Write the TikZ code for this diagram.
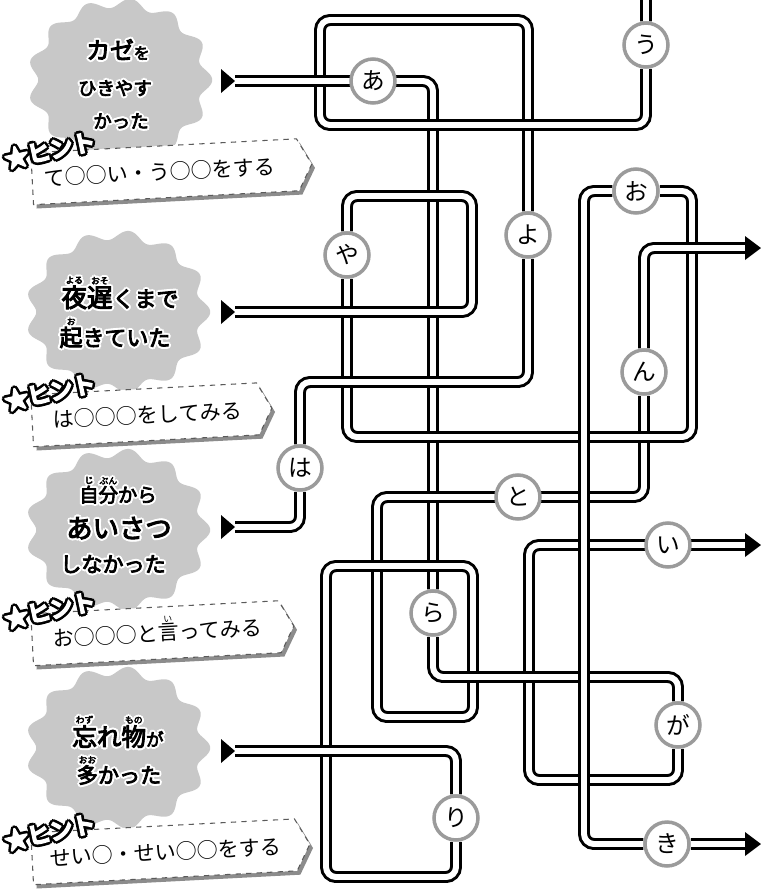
\documentclass[tikz,border=0pt]{standalone}
\usepackage{fontspec}
\usepackage{xcolor}
\usepackage{tikz}
\usetikzlibrary{positioning,backgrounds}
\newfontfamily\jpfont{Noto Sans CJK JP}
\newfontfamily\jpheavy[FakeBold=4]{Noto Sans CJK JP}
\newfontfamily\jptag[FakeBold=10]{Noto Sans CJK JP}
\definecolor{blobgray}{RGB}{200,200,200}
\definecolor{ringgray}{RGB}{155,155,155}
\definecolor{shadowgray}{RGB}{140,140,140}
\definecolor{dashgray}{RGB}{90,90,90}
\newcommand{\furi}[2]{\leavevmode\vbox{\offinterlineskip\halign{\hfil##\hfil\cr{\fontsize{5}{5}\selectfont#2}\cr\noalign{\kern1pt}#1\cr}}}
\newcommand{\cheer}[4][blob]{%
  \foreach \hx/\hy in {1/0,-1/0,0/1,0/-1,0.7/0.7,-0.7/0.7,0.7/-0.7,-0.7/-0.7}
    \node[#1 halo] at (#3) {#4};
  \node[#1 ink] (#2) at (#3) {#4};}

\begin{document}
\begin{tikzpicture}[x=0.02cm, y=-0.02cm,
  pipe/.style={draw=black, double=white, double distance=3.4pt, line width=1.7pt, rounded corners=0.2cm},
  letter/.style={circle, draw=ringgray, line width=2pt, fill=white, minimum size=0.88cm, inner sep=0pt,
                 font=\jpfont\fontsize{13.5}{13.5}\selectfont},
  pointer/.style={fill=black},
  blob/.style={fill=blobgray},
  blob halo/.style={anchor=base, inner sep=0pt, text=white, font=\jpheavy, xshift=\hx*1.2pt, yshift=\hy*1.2pt},
  blob ink/.style={anchor=base, inner sep=0pt, text=black, font=\jpheavy},
  tag halo/.style={rotate=12, inner sep=0pt, text=black, font=\jptag\fontsize{13}{13}\selectfont,
                   xshift=\hx*1.5pt, yshift=\hy*1.5pt},
  tag ink/.style={rotate=12, inner sep=0pt, text=white, font=\jptag\fontsize{13}{13}\selectfont},
  hintbox/.style={fill=white, draw=dashgray, dashed, line width=0.6pt},
  hintshadow/.style={fill=shadowgray},
  hinttext/.style={rotate=3, anchor=base, inner sep=0pt, font=\jpfont\fontsize{12}{12}\selectfont}
]
  \useasboundingbox (0,0) rectangle (761,890);

  % bubbles on the left
  \foreach \bx/\by in {120/80, 118/312, 118/530, 118/748}
    \fill[blob, shift={(\bx,\by)}] plot[domain=0:359, samples=360]
      ({87*(1+0.06*cos(13*\x))*cos(\x)}, {77*(1+0.06*cos(13*\x))*sin(\x)}) -- cycle;

  \cheer{t1a}{118,59}{\fontsize{13.5}{13.5}\selectfont カゼ\fontsize{9}{9}\selectfont を}
  \cheer{t1b}{115,95}{\fontsize{10.5}{10.5}\selectfont ひきやす}
  \cheer{t1c}{121,128}{\fontsize{10.5}{10.5}\selectfont かった}
  \cheer{t2a}{120,307}{\fontsize{14.5}{14.5}\selectfont\furi{夜}{よる}\furi{遅}{おそ}\fontsize{12.5}{12.5}\selectfont くまで}
  \cheer{t2b}{115,346}{\fontsize{13}{13}\selectfont\furi{起}{お}\fontsize{12.5}{12.5}\selectfont きていた}
  \cheer{t3a}{118,502}{\fontsize{11}{11}\selectfont\furi{自}{じ}\furi{分}{ぶん}から}
  \cheer{t3b}{119,538}{\fontsize{15}{15}\selectfont あいさつ}
  \cheer{t3c}{113,572}{\fontsize{12}{12}\selectfont しなかった}
  \cheer{t4a}{118,746}{\fontsize{14}{14}\selectfont\furi{忘}{わず}れ\furi{物}{もの}\fontsize{10}{10}\selectfont が}
  \cheer{t4b}{119,783}{\fontsize{12}{12}\selectfont\furi{多}{おお}かった}

  % hint boxes
  \foreach \cy/\rx in {172/298, 414/258, 633/280, 852/296} {
    \begin{scope}[rotate around={3:(160,\cy)}]
      \fill[hintshadow, shift={(3,4)}] (32,\cy-26) -- (\rx,\cy-26) -- (\rx+14,\cy) -- (\rx,\cy+26) -- (32,\cy+26) -- cycle;
      \filldraw[hintbox] (32,\cy-26) -- (\rx,\cy-26) -- (\rx+14,\cy) -- (\rx,\cy+26) -- (32,\cy+26) -- cycle;
    \end{scope}
  }
  \node[hinttext] (hint1) at (160,180) {て○○い・う○○をする};
  \node[hinttext] (hint2) at (148,423) {は○○○をしてみる};
  \node[hinttext] (hint3) at (158,641) {お○○○と\furi{言}{い}ってみる};
  \node[hinttext] (hint4) at (166,860) {せい○・せい○○をする};
  \cheer[tag]{tag1}{50,150}{★ヒント}
  \cheer[tag]{tag2}{50,392}{★ヒント}
  \cheer[tag]{tag3}{50,610}{★ヒント}
  \cheer[tag]{tag4}{50,832}{★ヒント}

  % letter stops
  \node[letter] (a)  at (373,81)  {あ};
  \node[letter] (ra) at (433,613) {ら};
  \node[letter] (ga) at (678,725) {が};
  \node[letter] (i)  at (668,545) {い};
  \node[letter] (ha) at (300,468) {は};
  \node[letter] (yo) at (528,235) {よ};
  \node[letter] (u)  at (646,45)  {う};
  \node[letter] (ya) at (347,255) {や};
  \node[letter] (o)  at (636,191) {お};
  \node[letter] (ki) at (667,844) {き};
  \node[letter] (ri) at (456,818) {り};
  \node[letter] (to) at (518,497) {と};
  \node[letter] (n)  at (644,372) {ん};

  % starts and exits
  \coordinate (s1) at (235,81);
  \coordinate (s2) at (235,312);
  \coordinate (s3) at (235,527);
  \coordinate (s4) at (235,751);
  \coordinate (x-i) at (745,545);
  \coordinate (x-ki) at (745,844);
  \coordinate (x-n) at (745,248);
  \coordinate (x-u) at (646,0);
  \foreach \s in {s1,s2,s3,s4}
    \fill[pointer] (\s) -- ++(-14,-12) -- ++(0,24) -- cycle;
  \foreach \e in {x-i,x-ki,x-n}
    \fill[pointer] (\e) -- ++(0,-12) -- ++(16,12) -- ++(-16,12) -- cycle;

  \begin{pgfonlayer}{background}
    \draw[pipe] (s1) -- (a) -- (433,81) -- (ra) -- (433,677) -- (678,677) -- (ga) -- (678,780)
      -- (529,780) -- (529,545) -- (i) -- (x-i);
    \draw[pipe] (s3) -- (300,527) -- (ha) -- (300,382) -- (528,382) -- (yo) -- (528,20)
      -- (320,20) -- (320,125) -- (646,125) -- (u) -- (x-u);
    \draw[pipe] (s2) -- (472,312) -- (472,196) -- (347,196) -- (ya) -- (347,437) -- (692,437)
      -- (692,191) -- (o) -- (584,191) -- (584,844) -- (ki) -- (x-ki);
    \draw[pipe] (s4) -- (456,751) -- (ri) -- (456,877) -- (326,877) -- (326,566) -- (473,566)
      -- (473,717) -- (377,717) -- (377,497) -- (to) -- (644,497) -- (n) -- (644,248) -- (x-n);
    % bridges over the crossings
    \foreach \from/\to in {{235,81}/{423,81}, {443,677}/{668,677}, {539,780}/{668,780},
        {539,545}/{745,545}, {310,382}/{518,382}, {330,125}/{636,125}, {235,312}/{462,312},
        {357,196}/{462,196}, {357,437}/{682,437}, {235,751}/{446,751}, {336,566}/{463,566},
        {387,497}/{634,497}, {654,248}/{745,248}, {584,201}/{584,834}}
      \draw[pipe] (\from) -- (\to);
  \end{pgfonlayer}
\end{tikzpicture}
\end{document}
